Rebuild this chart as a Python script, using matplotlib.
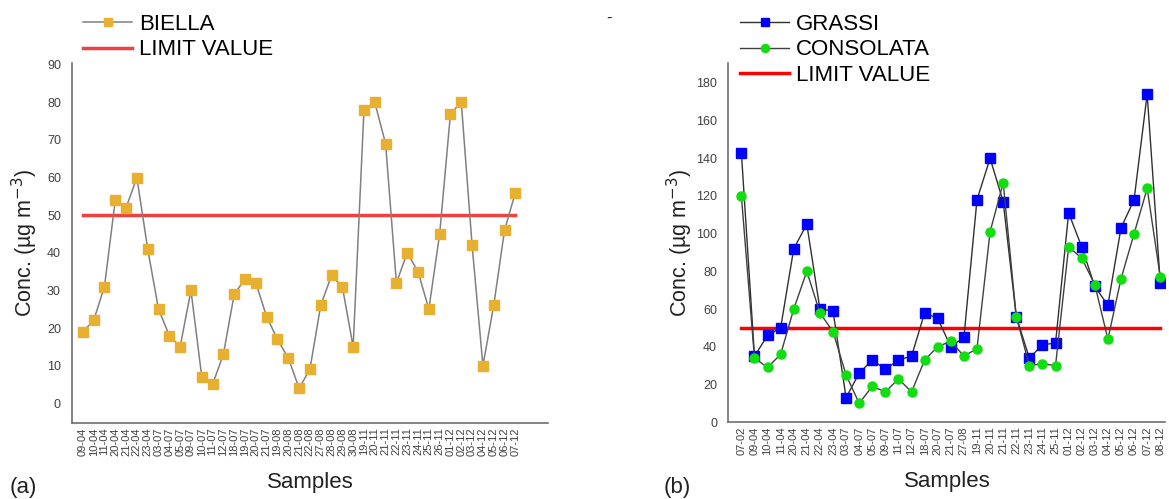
import matplotlib
matplotlib.use("Agg")
import matplotlib.pyplot as plt

plt.rcParams["font.family"] = ["Liberation Sans", "DejaVu Sans"]

# panel (a) - Biella
biella_dates = ["09-04", "10-04", "11-04", "20-04", "21-04", "22-04", "23-04",
                "03-07", "04-07", "05-07", "09-07", "10-07", "11-07", "12-07",
                "18-07", "19-07", "20-07", "21-07", "19-08", "20-08", "21-08",
                "22-08", "27-08", "28-08", "29-08", "30-08", "19-11", "20-11",
                "21-11", "22-11", "23-11", "24-11", "25-11", "26-11", "01-12",
                "02-12", "03-12", "04-12", "05-12", "06-12", "07-12"]
biella = [19, 22, 31, 54, 52, 60, 41, 25, 18, 15, 30, 7, 5, 13, 29, 33, 32, 23,
          17, 12, 4, 9, 26, 34, 31, 15, 78, 80, 69, 32, 40, 35, 25, 45, 77, 80,
          42, 10, 26, 46, 56]

# panel (b) - Torino
torino_dates = ["07-02", "09-04", "10-04", "11-04", "20-04", "21-04", "22-04",
                "23-04", "03-07", "04-07", "05-07", "09-07", "11-07", "12-07",
                "18-07", "20-07", "21-07", "27-08", "19-11", "20-11", "21-11",
                "22-11", "23-11", "24-11", "25-11", "01-12", "02-12", "03-12",
                "04-12", "05-12", "06-12", "07-12", "08-12"]
grassi = [143, 35, 46, 50, 92, 105, 60, 59, 13, 26, 33, 28, 33, 35, 58, 55, 40,
          45, 118, 140, 117, 56, 34, 41, 42, 111, 93, 72, 62, 103, 118, 174, 74]
consolata = [120, 34, 29, 36, 60, 80, 58, 48, 25, 10, 19, 16, 23, 16, 33, 40,
             43, 35, 39, 101, 127, 56, 30, 31, 30, 93, 87, 73, 44, 76, 100, 124, 77]

LIMIT = 50

fig = plt.figure(figsize=(11.69, 4.99), dpi=100)
ax1 = fig.add_axes([0.0616, 0.152, 0.407, 0.722])
ax2 = fig.add_axes([0.623, 0.154, 0.374, 0.720])

spine_col = "#707070"
tick_col = "#404040"


def style(ax):
    for s in ["top", "right"]:
        ax.spines[s].set_visible(False)
    for s in ["left", "bottom"]:
        ax.spines[s].set_color(spine_col)
        ax.spines[s].set_linewidth(1.2)
    ax.tick_params(axis="both", length=0, colors=tick_col, pad=3)
    ax.tick_params(axis="y", labelsize=9, pad=8)
    ax.tick_params(axis="x", labelsize=8, rotation=90, pad=3)
    ax.set_xlabel("Samples", fontsize=16, color="#222222")
    ax.set_ylabel("Conc. (µg m$^{-3}$)", fontsize=15.5, color="#222222")


# (a)
x1 = list(range(len(biella)))
l_b, = ax1.plot(x1, biella, color="#808080", lw=1.1, marker="s", ms=6.5,
                mfc="#E8B030", mec="#E8B030", zorder=3)
l_lim1, = ax1.plot(x1, [LIMIT] * len(x1), color="#F04040", lw=2.5, zorder=2)
ax1.set_xticks(x1)
ax1.set_xticklabels(biella_dates)
ax1.set_yticks(range(0, 91, 10))
ax1.set_xlim(-1.0, 43)
ax1.set_ylim(-5.3, 90.5)
style(ax1)
ax1.yaxis.set_label_coords(-0.067, 0.5)
ax1.xaxis.set_label_coords(0.5, -0.135)
fig.legend([l_b, l_lim1], ["BIELLA", "LIMIT VALUE"], loc="upper left",
           bbox_to_anchor=(0.054, 1.012), frameon=False, fontsize=16,
           handlelength=2.2, handletextpad=0.3, labelspacing=0.2,
           markerscale=0.9)

# (b)
x2 = list(range(len(grassi)))
l_g, = ax2.plot(x2, grassi, color="#303030", lw=1.0, marker="s", ms=6.5,
                mfc="#0000FF", mec="#0000FF", zorder=3)
l_c, = ax2.plot(x2, consolata, color="#404040", lw=1.0, marker="o", ms=6.5,
                mfc="#11DD11", mec="#11DD11", zorder=4)
l_lim2, = ax2.plot(x2, [LIMIT] * len(x2), color="#FF0000", lw=2.5, zorder=2)
ax2.set_xticks(x2)
ax2.set_xticklabels(torino_dates)
ax2.set_yticks(range(0, 181, 20))
ax2.set_xlim(-1.0, 32.4)
ax2.set_ylim(0, 190.6)
style(ax2)
ax2.yaxis.set_label_coords(-0.076, 0.5)
ax2.xaxis.set_label_coords(0.5, -0.135)
fig.legend([l_g, l_c, l_lim2], ["GRASSI", "CONSOLATA", "LIMIT VALUE"],
           loc="upper left", bbox_to_anchor=(0.616, 1.012), frameon=False,
           fontsize=16, handlelength=2.2, handletextpad=0.3, labelspacing=0.2,
           markerscale=0.9)

fig.text(0.008, 0.012, "(a)", fontsize=16, color="#222222")
fig.text(0.568, 0.012, "(b)", fontsize=16, color="#222222")
fig.text(0.519, 0.955, "-", fontsize=12, color="#222222")

fig.savefig("out.png", dpi=100)
